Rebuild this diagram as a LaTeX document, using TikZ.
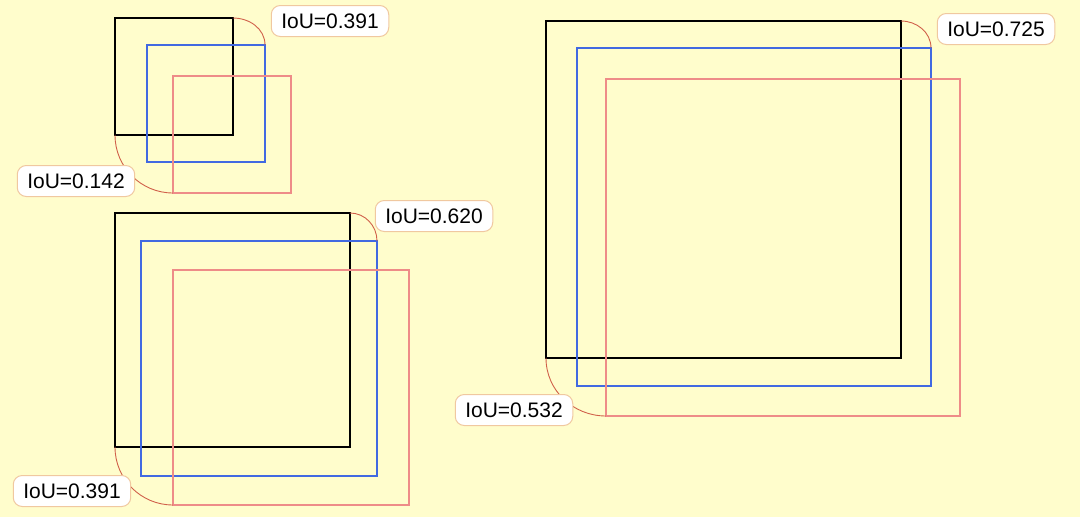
\documentclass[tikz,border=0pt]{standalone}
\usepackage{fontspec}
\setmainfont{Liberation Sans}
\definecolor{bg}{HTML}{FFFDCC}
\definecolor{bblue}{HTML}{4169E1}
\definecolor{bred}{HTML}{EE8C88}
\definecolor{lbord}{HTML}{F0C8A0}
\definecolor{lead}{HTML}{D0604A}
\begin{document}
\begin{tikzpicture}[x=1pt,y=-1pt,
  gt/.style={draw=black,line width=2.4pt},
  pb/.style={draw=bblue,line width=2.4pt},
  pr/.style={draw=bred,line width=2.4pt},
  lbl/.style={draw=lbord,fill=white,rounded corners=9pt,line width=1pt,font=\fontsize{21}{24}\selectfont,minimum height=31pt,inner xsep=10pt},
  leader/.style={draw=lead,line width=0.9pt}]
\fill[bg] (0,0) rectangle (1080,517);
\useasboundingbox (0,0) rectangle (1080,517);
% set 1
\draw[gt] (115,18) coordinate (a1) rectangle (233,135);
\draw[pb] (147,45) rectangle (265,162);
\draw[pr] (173,76) rectangle (291,193);
\coordinate (a1tr) at (233,18); \coordinate (b1tr) at (265,45);
\coordinate (a1bl) at (115,135); \coordinate (r1bl) at (173,193);
\draw[leader] (a1tr) to[out=0,in=90] (b1tr);
\draw[leader] (a1bl) to[out=-90,in=180] (r1bl);
\node[lbl] (l1a) at (330,21) {IoU=0.391};
\node[lbl] (l1b) at (76,181) {IoU=0.142};
% set 2
\draw[gt] (115,213) rectangle (350,447);
\draw[pb] (141,241) rectangle (377,476);
\draw[pr] (173,270) rectangle (409,505);
\coordinate (a2tr) at (350,213); \coordinate (b2tr) at (377,241);
\coordinate (a2bl) at (115,447); \coordinate (r2bl) at (173,505);
\draw[leader] (a2tr) to[out=0,in=90] (b2tr);
\draw[leader] (a2bl) to[out=-90,in=180] (r2bl);
\node[lbl] (l2a) at (434,216) {IoU=0.620};
\node[lbl] (l2b) at (72,491) {IoU=0.391};
% set 3
\draw[gt] (546,21) rectangle (901,358);
\draw[pb] (577,48) rectangle (931,386);
\draw[pr] (606,79) rectangle (960,416);
\coordinate (a3tr) at (901,21); \coordinate (b3tr) at (931,48);
\coordinate (a3bl) at (546,358); \coordinate (r3bl) at (606,416);
\draw[leader] (a3tr) to[out=0,in=90] (b3tr);
\draw[leader] (a3bl) to[out=-90,in=180] (r3bl);
\node[lbl] (l3a) at (996,29) {IoU=0.725};
\node[lbl] (l3b) at (514,410) {IoU=0.532};
\end{tikzpicture}
\end{document}
